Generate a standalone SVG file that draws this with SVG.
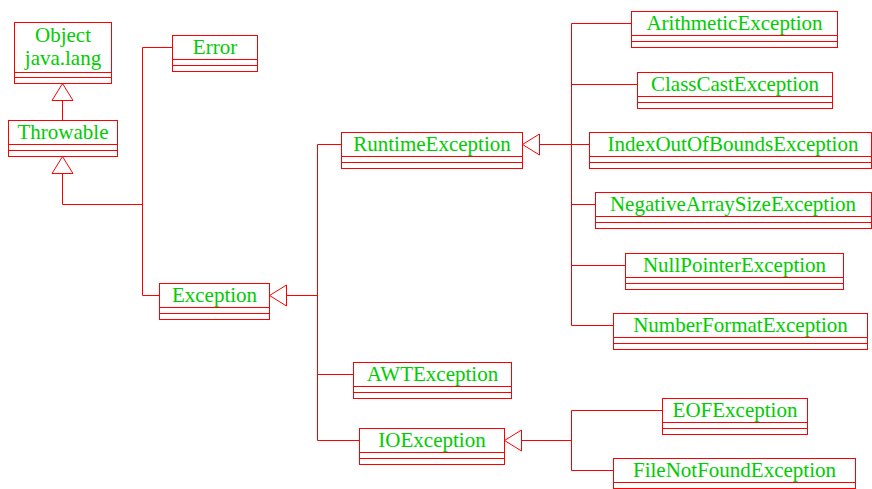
<svg xmlns="http://www.w3.org/2000/svg" width="872" height="489" viewBox="0 0 872 489">
<style>
.box{fill:#fff;stroke:#f00;stroke-width:1}
.sep{stroke:#f00;stroke-width:1}
.lbl{font-family:"Liberation Serif","Times New Roman",serif;font-size:21px;fill:#00cc00;text-anchor:middle}
.con{fill:none;stroke:#f00;stroke-width:1}
</style>
<defs>
<marker id="tri" markerUnits="userSpaceOnUse" markerWidth="20" markerHeight="24" viewBox="-1 -12 20 24" refX="17" refY="0" orient="auto">
<path d="M17,0 L0,-10.5 L0,10.5 Z" fill="#fff" stroke="#f00" stroke-width="1"/>
</marker>
</defs>
<rect width="872" height="489" fill="#fff"/>
<g transform="translate(0.5,0.5)">
<g id="connectors">
<path class="con" d="M62,120 V83" marker-end="url(#tri)"/>
<path class="con" d="M142,204 H62 V156" marker-end="url(#tri)"/>
<path class="con" d="M172,47 H142 V295 H159"/>
<path class="con" d="M317,295 H269" marker-end="url(#tri)"/>
<path class="con" d="M341,144 H317 V440 H359 M317,374 H353"/>
<path class="con" d="M589,144 H522" marker-end="url(#tri)"/>
<path class="con" d="M631,23 H571 V325 H613 M571,84 H637 M571,204 H595 M571,265 H625"/>
<path class="con" d="M571,440 H504" marker-end="url(#tri)"/>
<path class="con" d="M662,410 H571 V470 H613"/>
</g>
<g id="object">
<rect class="box" x="14" y="22" width="97" height="61"/>
<line class="sep" x1="14" y1="72" x2="111" y2="72"/><line class="sep" x1="14" y1="77" x2="111" y2="77"/>
<text class="lbl" x="62.5" y="41">Object</text><text class="lbl" x="62.5" y="64">java.lang</text>
</g>
<g id="throwable">
<rect class="box" x="8" y="120" width="109" height="36"/>
<line class="sep" x1="8" y1="144" x2="117" y2="144"/><line class="sep" x1="8" y1="150" x2="117" y2="150"/>
<text class="lbl" x="62.5" y="138">Throwable</text>
</g>
<g id="error">
<rect class="box" x="172" y="35" width="85" height="36"/>
<line class="sep" x1="172" y1="59" x2="257" y2="59"/><line class="sep" x1="172" y1="65" x2="257" y2="65"/>
<text class="lbl" x="214.5" y="53">Error</text>
</g>
<g id="exception">
<rect class="box" x="159" y="283" width="110" height="36"/>
<line class="sep" x1="159" y1="307" x2="269" y2="307"/><line class="sep" x1="159" y1="313" x2="269" y2="313"/>
<text class="lbl" x="214" y="301">Exception</text>
</g>
<g id="runtime">
<rect class="box" x="341" y="132" width="181" height="36"/>
<line class="sep" x1="341" y1="156" x2="522" y2="156"/><line class="sep" x1="341" y1="162" x2="522" y2="162"/>
<text class="lbl" x="431.5" y="150">RuntimeException</text>
</g>
<g id="awt">
<rect class="box" x="353" y="362" width="158" height="36"/>
<line class="sep" x1="353" y1="386" x2="511" y2="386"/><line class="sep" x1="353" y1="392" x2="511" y2="392"/>
<text class="lbl" x="432" y="380">AWTException</text>
</g>
<g id="io">
<rect class="box" x="359" y="428" width="145" height="36"/>
<line class="sep" x1="359" y1="452" x2="504" y2="452"/><line class="sep" x1="359" y1="458" x2="504" y2="458"/>
<text class="lbl" x="431.5" y="446">IOException</text>
</g>
<g id="arithmetic">
<rect class="box" x="631" y="11" width="206" height="36"/>
<line class="sep" x1="631" y1="35" x2="837" y2="35"/><line class="sep" x1="631" y1="41" x2="837" y2="41"/>
<text class="lbl" x="734" y="29">ArithmeticException</text>
</g>
<g id="classcast">
<rect class="box" x="637" y="72" width="195" height="36"/>
<line class="sep" x1="637" y1="96" x2="832" y2="96"/><line class="sep" x1="637" y1="102" x2="832" y2="102"/>
<text class="lbl" x="734.5" y="90">ClassCastException</text>
</g>
<g id="indexoutofbounds">
<rect class="box" x="589" y="132" width="282" height="36"/>
<line class="sep" x1="589" y1="156" x2="871" y2="156"/><line class="sep" x1="589" y1="162" x2="871" y2="162"/>
<text class="lbl" x="732.5" y="150">IndexOutOfBoundsException</text>
</g>
<g id="negativearraysize">
<rect class="box" x="595" y="192" width="276" height="36"/>
<line class="sep" x1="595" y1="216" x2="871" y2="216"/><line class="sep" x1="595" y1="222" x2="871" y2="222"/>
<text class="lbl" x="732.5" y="210">NegativeArraySizeException</text>
</g>
<g id="nullpointer">
<rect class="box" x="625" y="253" width="218" height="36"/>
<line class="sep" x1="625" y1="277" x2="843" y2="277"/><line class="sep" x1="625" y1="283" x2="843" y2="283"/>
<text class="lbl" x="734" y="271">NullPointerException</text>
</g>
<g id="numberformat">
<rect class="box" x="613" y="313" width="254" height="36"/>
<line class="sep" x1="613" y1="337" x2="867" y2="337"/><line class="sep" x1="613" y1="343" x2="867" y2="343"/>
<text class="lbl" x="740" y="331">NumberFormatException</text>
</g>
<g id="eof">
<rect class="box" x="662" y="398" width="145" height="36"/>
<line class="sep" x1="662" y1="422" x2="807" y2="422"/><line class="sep" x1="662" y1="428" x2="807" y2="428"/>
<text class="lbl" x="734.5" y="416">EOFException</text>
</g>
<g id="filenotfound">
<rect class="box" x="613" y="458" width="242" height="36"/>
<line class="sep" x1="613" y1="482" x2="855" y2="482"/><line class="sep" x1="613" y1="488" x2="855" y2="488"/>
<text class="lbl" x="734" y="476">FileNotFoundException</text>
</g>
</g>
</svg>
